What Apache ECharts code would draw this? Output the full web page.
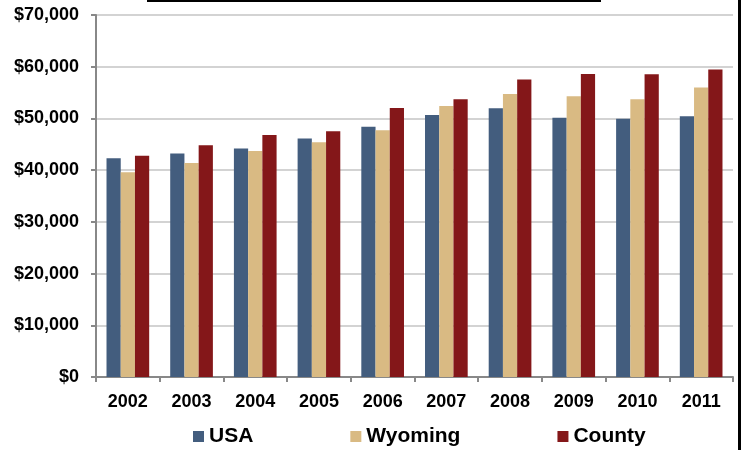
<!DOCTYPE html>
<html>
<head>
<meta charset="utf-8">
<script src="https://cdn.jsdelivr.net/npm/echarts@6/dist/echarts.min.js"></script>
<style>
html,body{margin:0;padding:0;background:#fff;}
#c{width:741px;height:450px;}
</style>
</head>
<body>
<div id="c"></div>
<script>
const years = ['2002','2003','2004','2005','2006','2007','2008','2009','2010','2011'];
const usa = [42300, 43200, 44200, 46100, 48400, 50650, 51950, 50150, 49950, 50400];
const wyoming = [39600, 41400, 43700, 45400, 47700, 52400, 54700, 54300, 53700, 56000];
const county = [42800, 44800, 46800, 47500, 52000, 53700, 57550, 58600, 58550, 59450];
const seriesNames = ['USA', 'Wyoming', 'County'];
const colors = ['#435D7E', '#D9BA83', '#841719'];

const FONT = "'Liberation Sans', Arial, sans-serif";
const chart = echarts.init(document.getElementById('c'), null, {renderer: 'canvas'});
const data = [usa, wyoming, county];
chart.setOption({
  animation: false,
  color: colors,
  grid: {left: 96, right: 8, top: 15, bottom: 73},
  legend: {
    data: seriesNames,
    left: 193,
    top: 426,
    padding: 0,
    itemWidth: 11,
    itemHeight: 11,
    itemGap: 97,
    icon: 'rect',
    textStyle: {fontFamily: FONT, fontSize: 21, fontWeight: 'bold', color: '#000'}
  },
  xAxis: {
    type: 'category',
    data: years,
    axisLine: {lineStyle: {color: '#888', width: 2}},
    axisTick: {show: true, length: 5, lineStyle: {color: '#888', width: 2}},
    axisLabel: {fontFamily: FONT, fontSize: 18, fontWeight: 'bold', color: '#000', margin: 16}
  },
  yAxis: {
    type: 'value',
    min: 0,
    max: 70000,
    interval: 10000,
    axisLine: {show: true, lineStyle: {color: '#888', width: 2}},
    axisTick: {show: true, length: 5, lineStyle: {color: '#888', width: 2}},
    splitLine: {lineStyle: {color: '#c4c4c4', width: 1.5}},
    axisLabel: {
      fontFamily: FONT, fontSize: 18, fontWeight: 'bold', color: '#000', margin: 17,
      formatter: v => '$' + v.toLocaleString('en-US')
    }
  },
  series: seriesNames.map((n, i) => ({
    name: n,
    type: 'bar',
    data: data[i],
    barGap: '0%',
    barCategoryGap: '33%',
    itemStyle: {color: colors[i]}
  })),
  graphic: [
    {type: 'rect', shape: {x: 147, y: 0, width: 454, height: 2}, style: {fill: '#000'}, silent: true},
    {type: 'rect', shape: {x: 738, y: 0, width: 3, height: 450}, style: {fill: '#000'}, silent: true}
  ]
});
</script>
</body>
</html>
